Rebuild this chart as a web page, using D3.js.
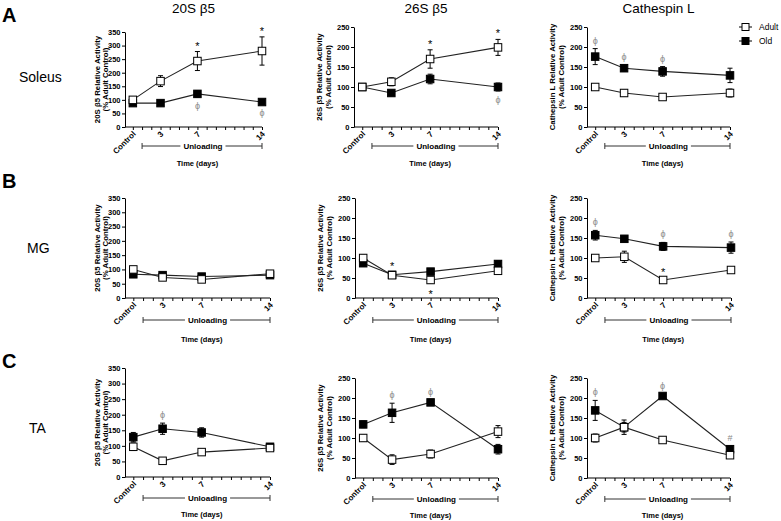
<!DOCTYPE html>
<html>
<head>
<meta charset="utf-8">
<script src="https://cdn.jsdelivr.net/npm/d3@7"></script>
<style>
  body { margin: 0; background: #fff; }
  svg { font-family: "Liberation Sans", Arial, sans-serif; }
  .tick text { font-weight: bold; font-size: 7.5px; }
  .xt .tick text { font-size: 8px; }
</style>
</head>
<body>
<div class="chart"></div>
<script>
// x values (days) and their labels
var days = [0, 3, 7, 14];
var dayLabels = ["Control", "3", "7", "14"];
var rowNames = ["Soleus", "MG", "TA"];
var rowLetters = ["A", "B", "C"];
var colTitles = ["20S \u03b25", "26S \u03b25", "Cathespin L"];
var yTitles = ["20S \u03b25 Relative Activity", "26S \u03b25 Relative Activity", "Cathepsin L Relative Activity"];
var yMax = [350, 250, 250];
var legendNames = ["Adult", "Old"];

// Soleus
var sol20Adult = [100, 169, 243, 280], sol20AdultErr = [6, 20, 35, 52];
var sol20Old = [88, 88, 122, 92], sol20OldErr = [6, 6, 12, 8];
var sol26Adult = [100, 113, 170, 199], sol26AdultErr = [8, 10, 23, 20];
var sol26Old = [100, 85, 120, 100], sol26OldErr = [8, 7, 12, 10];
var solCatAdult = [100, 85, 75, 85], solCatAdultErr = [4, 8, 6, 10];
var solCatOld = [176, 147, 139, 129], solCatOldErr = [20, 7, 12, 18];

// MG
var mg20Adult = [100, 72, 65, 85], mg20AdultErr = [8, 8, 8, 6];
var mg20Old = [83, 80, 75, 80], mg20OldErr = [6, 6, 8, 6];
var mg26Adult = [100, 57, 45, 68], mg26AdultErr = [8, 5, 8, 6];
var mg26Old = [87, 58, 66, 85], mg26OldErr = [6, 6, 6, 8];
var mgCatAdult = [100, 103, 45, 70], mgCatAdultErr = [4, 14, 4, 4];
var mgCatOld = [157, 148, 129, 126], mgCatOldErr = [12, 7, 10, 14];

// TA
var ta20Adult = [97, 52, 80, 93], ta20AdultErr = [12, 8, 5, 8];
var ta20Old = [128, 155, 143, 97], ta20OldErr = [15, 18, 15, 10];
var ta26Adult = [100, 46, 60, 116], ta26AdultErr = [8, 12, 10, 15];
var ta26Old = [134, 163, 189, 72], ta26OldErr = [8, 24, 6, 12];
var taCatAdult = [100, 127, 95, 57], taCatAdultErr = [10, 18, 6, 5];
var taCatOld = [169, 127, 205, 72], taCatOldErr = [25, 12, 5, 8];

// significance marks: [day index, series, above/below, symbol]
var sol20Marks = [[2, "adult", "up", "*"], [3, "adult", "up", "*"], [2, "old", "down", "\u03d5"], [3, "old", "down", "\u03d5"]];
var sol26Marks = [[2, "adult", "up", "*"], [3, "adult", "up", "*"], [3, "old", "down", "\u03d5"]];
var solCatMarks = [[0, "old", "up", "\u03d5"], [1, "old", "up", "\u03d5"], [2, "old", "up", "\u03d5"]];
var mg20Marks = [];
var mg26Marks = [[1, "old", "up", "*"], [2, "adult", "down", "*"]];
var mgCatMarks = [[0, "old", "up", "\u03d5"], [2, "old", "up", "\u03d5"], [3, "old", "up", "\u03d5"], [2, "adult", "up", "*"]];
var ta20Marks = [[1, "old", "up", "\u03d5"]];
var ta26Marks = [[1, "old", "up", "\u03d5"], [2, "old", "up", "\u03d5"]];
var taCatMarks = [[0, "old", "up", "\u03d5"], [2, "old", "up", "\u03d5"], [3, "old", "up", "#"]];

var panelData = [
  [[sol20Adult, sol20AdultErr, sol20Old, sol20OldErr, sol20Marks],
   [sol26Adult, sol26AdultErr, sol26Old, sol26OldErr, sol26Marks],
   [solCatAdult, solCatAdultErr, solCatOld, solCatOldErr, solCatMarks]],
  [[mg20Adult, mg20AdultErr, mg20Old, mg20OldErr, mg20Marks],
   [mg26Adult, mg26AdultErr, mg26Old, mg26OldErr, mg26Marks],
   [mgCatAdult, mgCatAdultErr, mgCatOld, mgCatOldErr, mgCatMarks]],
  [[ta20Adult, ta20AdultErr, ta20Old, ta20OldErr, ta20Marks],
   [ta26Adult, ta26AdultErr, ta26Old, ta26OldErr, ta26Marks],
   [taCatAdult, taCatAdultErr, taCatOld, taCatOldErr, taCatMarks]]
];

// panel boxes: left, right (day 14), top (y max), bottom (y 0)
var boxes = [
  [[125, 262, 32, 127], [354, 498, 27, 127], [587, 730, 27, 127]],
  [[125, 270, 198, 298], [355, 498, 198, 298], [587, 731, 198, 298]],
  [[125, 270, 368, 477], [355, 498, 378, 478], [587, 730, 378, 478]]
];
var bracketGap = [19, 22, 21];
var timeGap = [39, 44, 40];
var letterY = [22, 188, 368];
var rowLabelPos = [[19, 82], [27, 253], [29, 433]];

var W = 781, H = 521;
var svg = d3.select(".chart")
    .append("svg")
    .attr("width", W)
    .attr("height", H);

// row letters and names
rowLetters.forEach(function (l, i) {
  svg.append("text").attr("x", 2).attr("y", letterY[i])
    .attr("font-size", 20).attr("font-weight", "bold").text(l);
  svg.append("text").attr("x", rowLabelPos[i][0]).attr("y", rowLabelPos[i][1])
    .attr("font-size", 14).text(rowNames[i]);
});

function drawPanel(r, c) {
  var b = boxes[r][c];
  var d = panelData[r][c];
  var g = svg.append("g");

  // axis starts a bit before Control, day 14 sits at the right end
  var x = d3.scaleLinear().domain([-0.85, 14]).range([b[0], b[1]]);
  var y = d3.scaleLinear().domain([0, yMax[c]]).range([b[3], b[2]]);

  if (r === 0) {
    g.append("text").attr("x", (b[0] + b[1]) / 2).attr("y", 13)
      .attr("text-anchor", "middle").attr("font-size", 13.5).text(colTitles[c]);
  }

  // y axis
  var ya = g.append("g")
      .attr("transform", "translate(" + b[0] + ",0)")
      .call(d3.axisLeft(y).tickValues(d3.range(0, yMax[c] + 1, 50)).tickSize(3).tickSizeOuter(0).tickPadding(1.5));
  ya.selectAll("line, path").attr("stroke", "#000");

  // x axis with a tick every day
  var xa = g.append("g")
      .attr("class", "xt")
      .attr("transform", "translate(0," + b[3] + ")")
      .call(d3.axisBottom(x).tickValues(d3.range(0, 15)).tickSize(3).tickSizeOuter(0)
        .tickFormat(function (v) { var k = days.indexOf(v); return k < 0 ? "" : dayLabels[k]; }));
  xa.select(".domain").attr("d", "M" + b[0] + ",0H" + b[1]);
  xa.selectAll("line, path").attr("stroke", "#000");
  xa.selectAll("text")
    .attr("text-anchor", "end")
    .attr("y", 0).attr("dy", 0)
    .attr("transform", "translate(3,7.5) rotate(-45)");

  // y label, two lines
  var lx = c === 0 ? [-25, -17.5] : [-32, -23];
  var my = (b[2] + b[3]) / 2;
  [yTitles[c], "(% Adult Control)"].forEach(function (t, i) {
    g.append("text")
      .attr("transform", "translate(" + (b[0] + lx[i]) + "," + my + ") rotate(-90)")
      .attr("text-anchor", "middle").attr("font-size", 7.8).attr("font-weight", "bold")
      .text(t);
  });

  // unloading bracket
  var by = b[3] + bracketGap[r];
  var x1 = x(1), x2 = x(14);
  var tx = x(7.6);
  var ut = g.append("text").attr("x", tx).attr("y", by + 3)
    .attr("text-anchor", "middle").attr("font-size", 8).attr("font-weight", "bold")
    .text("Unloading");
  var hw = ut.node().getComputedTextLength() / 2 + 3;
  g.append("path")
    .attr("d", "M" + x1 + "," + (by - 3) + "V" + (by + 3) + "M" + x1 + "," + by + "H" + (tx - hw) +
      "M" + (tx + hw) + "," + by + "H" + x2 + "M" + x2 + "," + (by - 3) + "V" + (by + 3))
    .attr("stroke", "#333").attr("stroke-width", 1).attr("fill", "none");
  g.append("text").attr("x", x(7)).attr("y", b[3] + timeGap[r])
    .attr("text-anchor", "middle").attr("font-size", 7.5).attr("font-weight", "bold")
    .text("Time (days)");

  var series = [
    { key: "old", mean: d[2], err: d[3], fill: "#000" },
    { key: "adult", mean: d[0], err: d[1], fill: "#fff" }
  ];
  var line = d3.line().x(function (p) { return x(p[0]); }).y(function (p) { return y(p[1]); });

  series.forEach(function (s) {
    var pts = days.map(function (dd, i) { return [dd, s.mean[i], s.err[i]]; });
    g.append("path").datum(pts).attr("d", line)
      .attr("fill", "none").attr("stroke", "#222").attr("stroke-width", 1.1);
  });
  series.forEach(function (s) {
    var pts = days.map(function (dd, i) { return [dd, s.mean[i], s.err[i]]; });
    var eb = g.append("g");
    pts.forEach(function (p) {
      var px = x(p[0]), t = y(p[1] + p[2]), bt = y(p[1] - p[2]);
      eb.append("path")
        .attr("d", "M" + px + "," + t + "V" + bt + "M" + (px - 2.5) + "," + t + "H" + (px + 2.5) +
          "M" + (px - 2.5) + "," + bt + "H" + (px + 2.5))
        .attr("stroke", "#000").attr("stroke-width", 1);
    });
    g.selectAll(null).data(pts).enter().append("rect")
      .attr("x", function (p) { return x(p[0]) - 3.75; })
      .attr("y", function (p) { return y(p[1]) - 3.75; })
      .attr("width", 7.5).attr("height", 7.5)
      .attr("fill", s.fill).attr("stroke", "#000").attr("stroke-width", 1);
  });

  // significance marks
  d[4].forEach(function (m) {
    var s = m[1] === "adult" ? series[1] : series[0];
    var v = s.mean[m[0]], e = s.err[m[0]];
    var cy = m[2] === "up" ? y(v + e) - 8 : y(v - e) + 9;
    var star = m[3] === "*";
    g.append("text").attr("x", x(days[m[0]])).attr("y", cy + (star ? 6 : 3))
      .attr("text-anchor", "middle")
      .attr("font-size", star ? 11 : 9)
      .attr("fill", star ? "#000" : "#8a8a8a")
      .text(m[3]);
  });
}

for (var r = 0; r < 3; r++) {
  for (var c = 0; c < 3; c++) drawPanel(r, c);
}

// legend
legendNames.forEach(function (n, i) {
  var ly = 27 + i * 14;
  svg.append("line").attr("x1", 739).attr("x2", 752).attr("y1", ly).attr("y2", ly)
    .attr("stroke", "#000");
  svg.append("rect").attr("x", 742).attr("y", ly - 3.5).attr("width", 7).attr("height", 7)
    .attr("fill", i === 0 ? "#fff" : "#000").attr("stroke", "#000");
  svg.append("text").attr("x", 759).attr("y", ly + 3).attr("font-size", 8.5).text(n);
});
</script>
</body>
</html>
